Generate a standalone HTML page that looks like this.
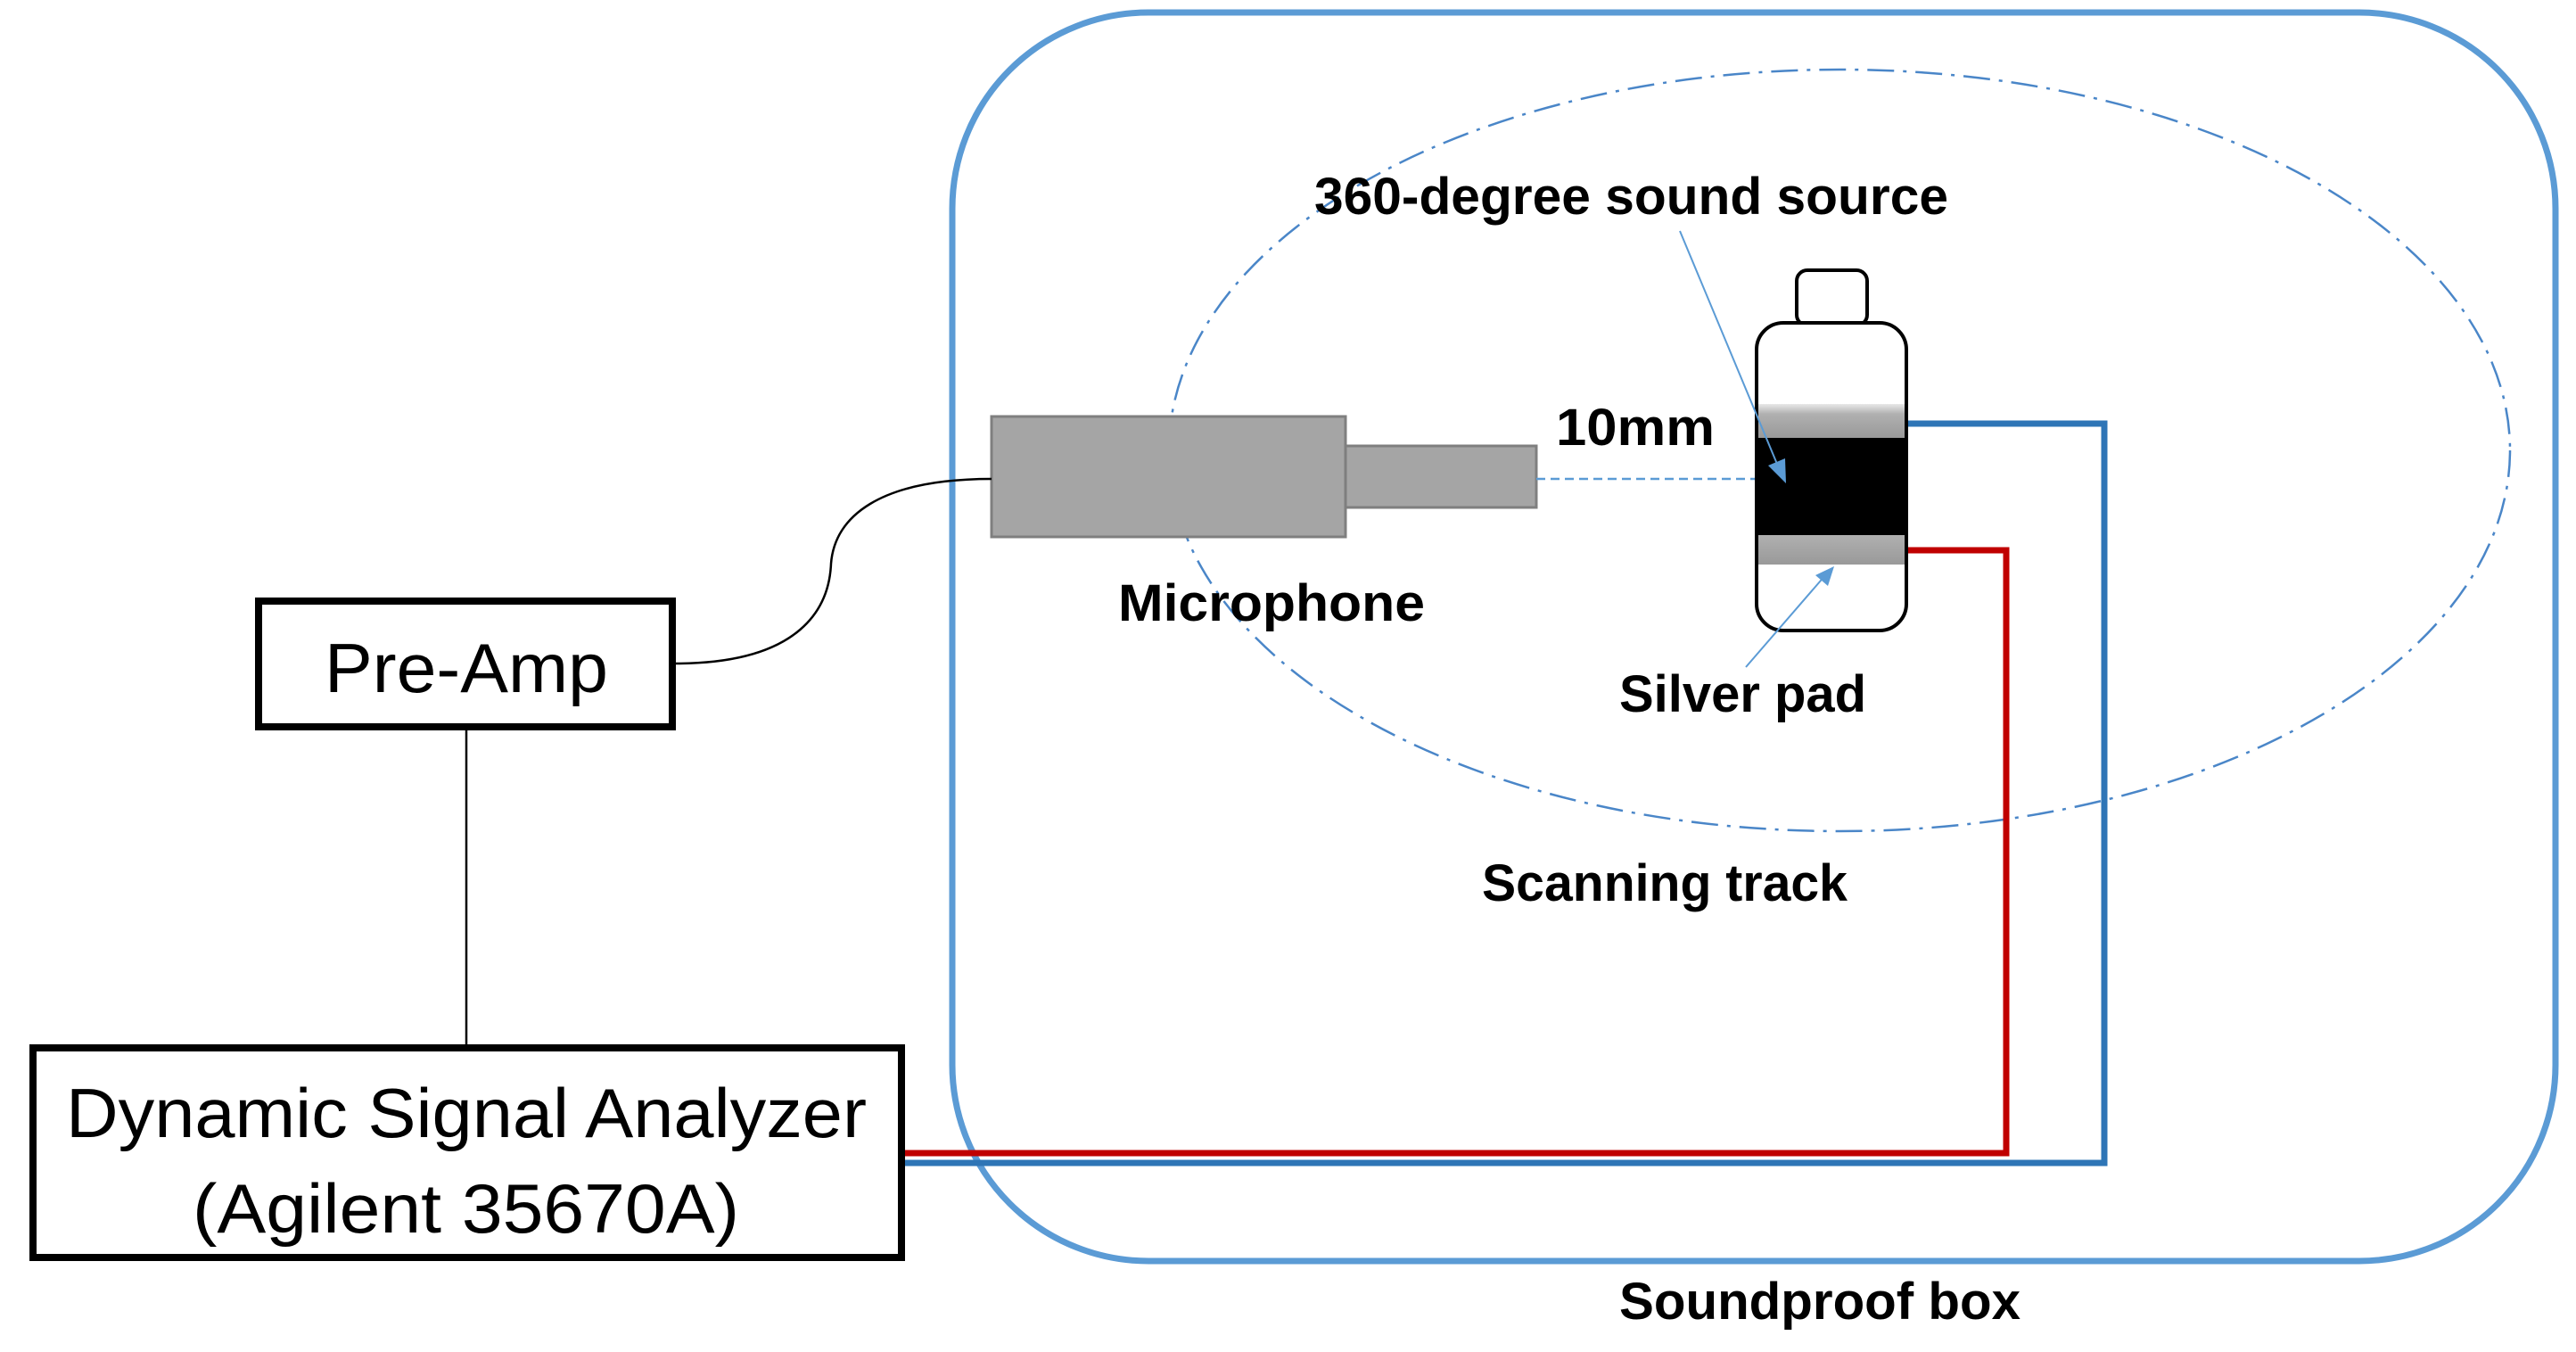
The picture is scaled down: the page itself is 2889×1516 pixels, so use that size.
<!DOCTYPE html>
<html><head><meta charset="utf-8"><style>
html,body{margin:0;padding:0;background:#fff;}
svg{display:block;}
text{font-family:"Liberation Sans",sans-serif;}
</style></head><body>
<svg width="2889" height="1516" viewBox="0 0 2889 1516" xmlns="http://www.w3.org/2000/svg">
<defs>
<linearGradient id="g1" x1="0" y1="0" x2="0" y2="1">
<stop offset="0" stop-color="#e8e8e8"/><stop offset="0.3" stop-color="#b0b0b0"/><stop offset="1" stop-color="#999"/>
</linearGradient>
<linearGradient id="g2" x1="0" y1="0" x2="0" y2="1">
<stop offset="0" stop-color="#b0b0b0"/><stop offset="1" stop-color="#999"/>
</linearGradient>
<marker id="ah" viewBox="0 0 10 10" refX="9" refY="5" markerWidth="8" markerHeight="8" markerUnits="userSpaceOnUse" orient="auto">
</marker>
</defs>
<!-- soundproof box -->
<rect x="1068" y="14" width="1798" height="1400" rx="220" ry="220" fill="none" stroke="#5b9bd5" stroke-width="7"/>
<!-- scanning track ellipse -->
<ellipse cx="2063" cy="505" rx="752" ry="427" fill="none" stroke="#4a86c8" stroke-width="2.5" stroke-dasharray="30,10,4,10"/>
<!-- wires -->
<polyline points="2138,475 2360,475 2360,1304 1012,1304" fill="none" stroke="#2e75b6" stroke-width="7"/>
<polyline points="2138,617 2250,617 2250,1293 1012,1293" fill="none" stroke="#c00000" stroke-width="7"/>
<!-- microphone -->
<rect x="1112" y="467" width="397" height="135" fill="#a5a5a5" stroke="#7f7f7f" stroke-width="3"/>
<rect x="1509" y="500" width="214" height="69" fill="#a5a5a5" stroke="#7f7f7f" stroke-width="3"/>
<line x1="1723" y1="537" x2="1972" y2="537" stroke="#5b9bd5" stroke-width="2.5" stroke-dasharray="10,6"/>
<!-- bottle -->
<rect x="2015" y="303" width="79" height="62" rx="12" fill="#fff" stroke="#000" stroke-width="4"/>
<rect x="1970" y="362" width="168" height="345" rx="30" fill="#fff" stroke="#000" stroke-width="4"/>
<rect x="1972" y="453" width="164" height="38" fill="url(#g1)"/>
<rect x="1970" y="491" width="168" height="109" fill="#000"/>
<rect x="1972" y="600" width="164" height="33" fill="url(#g2)"/>
<!-- annotation arrows -->
<line x1="1884" y1="259" x2="1995" y2="525" stroke="#5b9bd5" stroke-width="2"/>
<polygon points="2003,542 1983,522 2002,514" fill="#5b9bd5"/>
<line x1="1958" y1="748" x2="2048" y2="644" stroke="#5b9bd5" stroke-width="2"/>
<polygon points="2057,635 2050,657 2036,645" fill="#5b9bd5"/>
<!-- preamp / analyzer -->
<path d="M757,744 C 900,744 930,680 932,632 C 936,580 985,537 1112,537" fill="none" stroke="#000" stroke-width="2.5"/>
<line x1="523" y1="818" x2="523" y2="1171" stroke="#000" stroke-width="2.5"/>
<rect x="290" y="674" width="464" height="141" fill="#fff" stroke="#000" stroke-width="8"/>
<rect x="37" y="1175" width="974" height="235" fill="#fff" stroke="#000" stroke-width="8"/>
<text x="364" y="776" font-size="78" textLength="318" lengthAdjust="spacingAndGlyphs">Pre-Amp</text>
<text x="74" y="1275" font-size="78" textLength="898" lengthAdjust="spacingAndGlyphs">Dynamic Signal Analyzer</text>
<text x="216" y="1382" font-size="78" textLength="613" lengthAdjust="spacingAndGlyphs">(Agilent 35670A)</text>
<!-- labels -->
<g font-weight="bold" font-size="58">
<text x="1474" y="240" textLength="711" lengthAdjust="spacingAndGlyphs">360-degree sound source</text>
<text x="1745" y="499" textLength="178" lengthAdjust="spacingAndGlyphs">10mm</text>
<text x="1254" y="696" textLength="344" lengthAdjust="spacingAndGlyphs">Microphone</text>
<text x="1816" y="798" textLength="277" lengthAdjust="spacingAndGlyphs">Silver pad</text>
<text x="1662" y="1010" textLength="410" lengthAdjust="spacingAndGlyphs">Scanning track</text>
<text x="1816" y="1479" textLength="450" lengthAdjust="spacingAndGlyphs">Soundproof box</text>
</g>
</svg>
</body></html>
